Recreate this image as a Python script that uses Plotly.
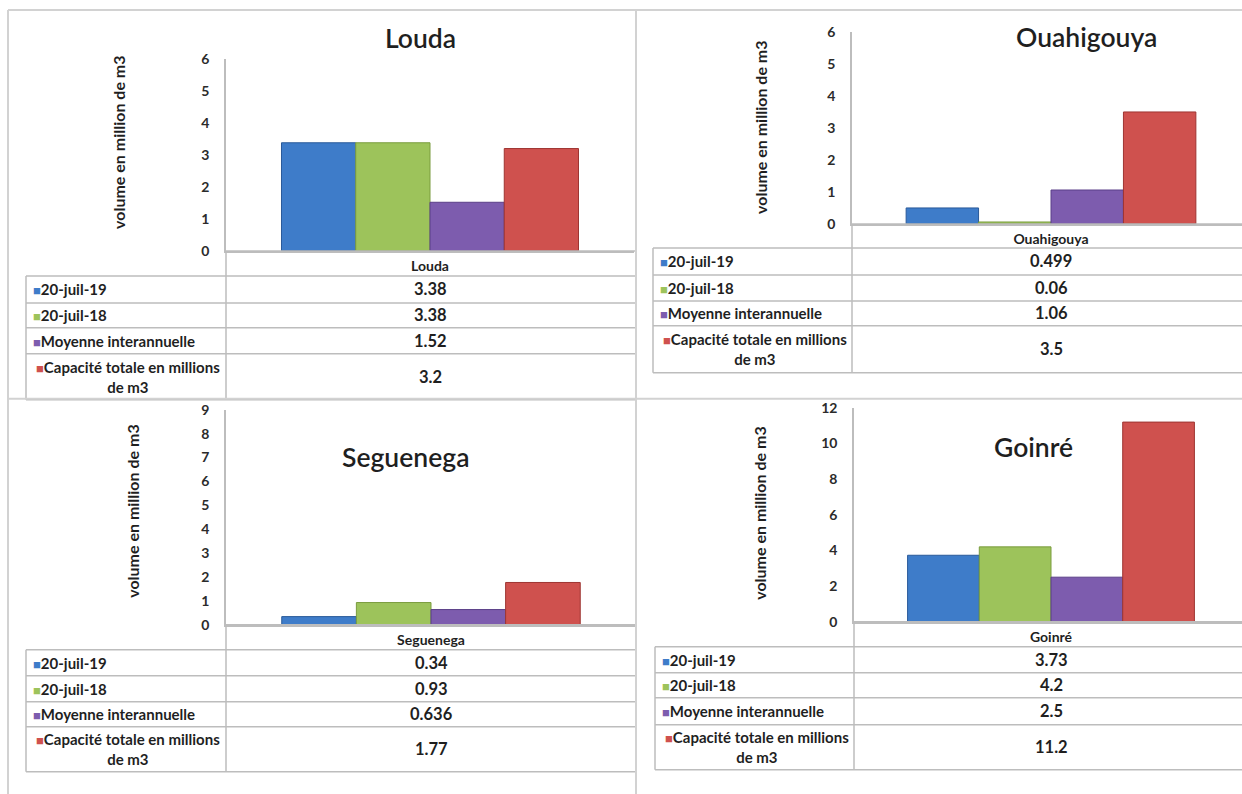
import plotly.graph_objects as go

# ---------------- data ----------------
sites = ["Louda", "Ouahigouya", "Seguenega", "Goinré"]
series_names = ["20-juil-19", "20-juil-18", "Moyenne interannuelle",
                "Capacité totale en millions de m3"]
v_2019 = [3.38, 0.499, 0.34, 3.73]
v_2018 = [3.38, 0.06, 0.93, 4.2]
v_moy = [1.52, 1.06, 0.636, 2.5]
v_cap = [3.2, 3.5, 1.77, 11.2]
y_max = [6, 6, 9, 12]
y_dtick = [1, 1, 1, 2]
y_title = "volume en million de m3"

series_values = [v_2019, v_2018, v_moy, v_cap]
colors = ["#3E7CC9", "#9DC35B", "#7D5CAE", "#CF514E"]
edge_colors = ["#2A5A99", "#7A9C3E", "#5B3F88", "#9E3532"]

# ---------------- layout geometry (target pixels) ----------------
W, H = 1242, 794
# the captured picture maps page rows as: shown = 9 + 0.979 * page_y
SY, OY = 0.979, 9.0
def X(px): return px / W
def Y(py): return 1 - ((py - OY) / SY) / H

panels = [
    dict(ax_x=226, dom_r=634, xr=(-0.5, 0.5), y_top=59, y_zero=251, tx=420, ty=38,
         ytx=119, yty=143, t_left=26, t_right=636, rows=[276, 303, 328, 354, 400]),
    dict(ax_x=852, dom_r=None, xr=(-0.5, None), y_top=32, y_zero=224, tx=1086, ty=37,
         ytx=761, yty=127, t_left=653, t_right=1242, rows=[248, 275, 301, 326, 373], ctr=1051),
    dict(ax_x=226, dom_r=636, xr=(-0.5, 0.5), y_top=410, y_zero=625, tx=405, ty=457,
         ytx=133, yty=512, t_left=26, t_right=636, rows=[650, 676, 702, 727, 772]),
    dict(ax_x=854, dom_r=None, xr=(-0.5, None), y_top=408, y_zero=622, tx=1033, ty=447,
         ytx=760, yty=514, t_left=655, t_right=1242, rows=[647, 673, 698, 725, 770], ctr=1051),
]

FONT = "Lato"
TXT = "#1f1f1f"
GRID = "#BDBDBD"
BORDER = "#D2D2D2"

fig = go.Figure()
shapes = []
annotations = []
layout_axes = {}

for i, (site, p) in enumerate(zip(sites, panels)):
    n = "" if i == 0 else str(i + 1)
    xa, ya = "x" + n, "y" + n
    for s in range(4):
        fig.add_trace(go.Bar(
            x=[site], y=[series_values[s][i]], name=series_names[s],
            xaxis=xa, yaxis=ya, showlegend=False,
            marker=dict(color=colors[s], line=dict(color=edge_colors[s], width=1)),
            hoverinfo="skip",
        ))
    if p["dom_r"] is None:
        unit = 2 * (p["ctr"] - p["ax_x"])
        xr = [-0.5, (W - p["ctr"]) / unit]
        dom = [X(p["ax_x"]), 1.0]
    else:
        xr = list(p["xr"])
        dom = [X(p["ax_x"]), X(p["dom_r"])]
    layout_axes["xaxis" + n] = dict(
        domain=dom, anchor=ya, type="category",
        range=xr, showgrid=False, zeroline=False, showline=True,
        linecolor=GRID, linewidth=1.5, ticks="", ticklabelstandoff=2,
        tickfont=dict(family=FONT, size=14, color=TXT, weight="bold"),
        fixedrange=True,
    )
    layout_axes["yaxis" + n] = dict(
        domain=[Y(p["y_zero"]), Y(p["y_top"])], anchor=xa,
        range=[0, y_max[i]], dtick=y_dtick[i], tick0=0,
        showgrid=False, zeroline=False, showline=True, linecolor=GRID, linewidth=1.5,
        ticks="", ticklabelstandoff=12,
        tickfont=dict(family=FONT, size=14, color="#2b2b2b", weight="bold"),
        fixedrange=True,
    )
    # chart title
    annotations.append(dict(text=site, x=X(p["tx"]), y=Y(p["ty"]), xref="paper", yref="paper",
                            showarrow=False, xanchor="center", yanchor="middle",
                            font=dict(family=FONT, size=26.5, color=TXT, weight=600)))
    # y axis title
    annotations.append(dict(text=y_title, x=X(p["ytx"]), y=Y(p["yty"]), xref="paper", yref="paper",
                            showarrow=False, textangle=-90, xanchor="center", yanchor="middle",
                            font=dict(family=FONT, size=16, color=TXT, weight="bold")))
    # data table lines
    rows = p["rows"]
    for r in rows:
        shapes.append(dict(type="line", xref="paper", yref="paper",
                           x0=X(p["t_left"]), x1=X(p["t_right"]), y0=Y(r), y1=Y(r),
                           line=dict(color=GRID, width=1.5)))
    shapes.append(dict(type="line", xref="paper", yref="paper",
                       x0=X(p["t_left"]), x1=X(p["t_left"]), y0=Y(rows[0]), y1=Y(rows[-1]),
                       line=dict(color=GRID, width=1.5)))
    shapes.append(dict(type="line", xref="paper", yref="paper",
                       x0=X(p["ax_x"]), x1=X(p["ax_x"]), y0=Y(p["y_zero"]), y1=Y(rows[-1]),
                       line=dict(color=GRID, width=1.5)))
    shapes.append(dict(type="line", xref="paper", yref="paper",
                       x0=X(p["ax_x"]), x1=X(p["t_right"]), y0=Y(p["y_zero"]), y1=Y(p["y_zero"]),
                       line=dict(color=GRID, width=1.5)))
    # table text
    for s in range(4):
        key = "<span style='color:%s;font-size:13px'>■</span>" % colors[s]
        yc = (rows[s] + rows[s + 1]) / 2
        if s < 3:
            annotations.append(dict(text=key + series_names[s], x=X(p["t_left"] + 5), y=Y(yc),
                                    xref="paper", yref="paper", showarrow=False,
                                    xanchor="left", yanchor="middle",
                                    font=dict(family=FONT, size=15, color=TXT, weight="bold")))
        else:
            annotations.append(dict(text=key + "Capacité totale en millions<br>de m3",
                                    x=X((p["t_left"] + p["ax_x"]) / 2 + 2), y=Y(yc),
                                    xref="paper", yref="paper", showarrow=False, align="center",
                                    xanchor="center", yanchor="middle",
                                    font=dict(family=FONT, size=15, color=TXT, weight="bold")))
        annotations.append(dict(text=str(series_values[s][i]), x=site, y=Y(yc),
                                xref=xa, yref="paper", showarrow=False,
                                xanchor="center", yanchor="middle",
                                font=dict(family=FONT, size=16.5, color=TXT, weight="bold")))

# panel borders
for (x0, y0, x1, y1) in [(8, 10, 1242, 10), (8, 10, 8, 800), (636, 10, 636, 800), (8, 399, 1242, 399)]:
    shapes.append(dict(type="line", xref="paper", yref="paper",
                       x0=X(x0), x1=X(x1), y0=Y(y0), y1=Y(y1),
                       line=dict(color=BORDER, width=2)))

fig.update_layout(
    width=W, height=H, autosize=False,
    margin=dict(l=0, r=0, t=0, b=0),
    paper_bgcolor="white", plot_bgcolor="rgba(0,0,0,0)",
    barmode="group", bargap=0.272, bargroupgap=0,
    showlegend=False,
    shapes=shapes, annotations=annotations,
    font=dict(family=FONT),
    **layout_axes,
)

fig.write_html(
    "out.html",
    config={"displayModeBar": False},
    post_script="document.body.style.margin='0px';"
                "document.body.style.overflow='hidden';"
                "document.documentElement.style.overflow='hidden';",
)
